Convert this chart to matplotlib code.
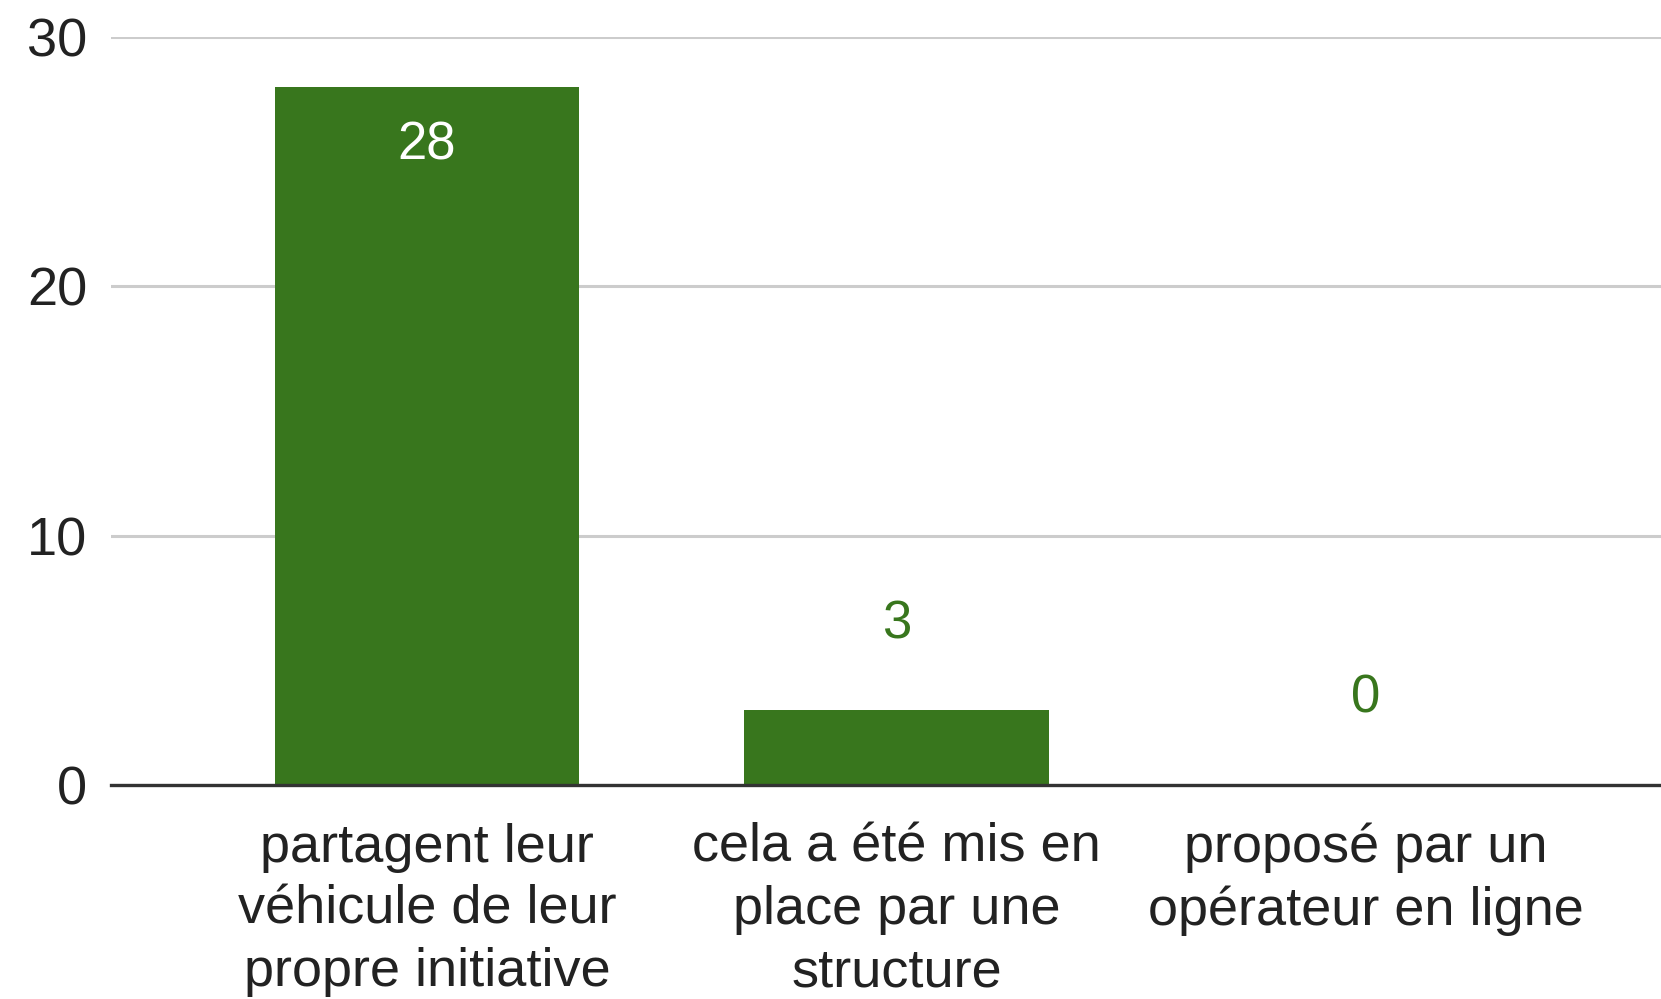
import matplotlib.pyplot as plt

categories = [
    "partagent leur\nvéhicule de leur\npropre initiative",
    "cela a été mis en\nplace par une\nstructure",
    "proposé par un\nopérateur en ligne",
]
values = [28, 3, 0]
yticks = [0, 10, 20, 30]

green = "#38761d"

plt.rcParams['font.family'] = ['Liberation Sans', 'DejaVu Sans']

fig = plt.figure(figsize=(16.61, 9.99), dpi=100)
ax = fig.add_axes([0.0668, 0.2142, 0.9332, 0.7488])

x = list(range(len(categories)))
bars = ax.bar(x, values, width=0.648, color=green, zorder=3)

for i, v in enumerate(values):
    if v > 10:
        ax.annotate(str(v), (x[i], v), xytext=(0, -42), textcoords="offset points",
                    ha="center", va="center", color="white", fontsize=38)
    else:
        ax.annotate(str(v), (x[i], v), xytext=(0, 62), textcoords="offset points",
                    ha="center", va="center", color=green, fontsize=38)

ax.set_xlim(-0.673, 2.628)
ax.set_ylim(0, 30)
ax.set_yticks(yticks)
ax.set_yticklabels([str(t) for t in yticks], fontsize=39, color="#222222")
ax.set_xticks(x)
ax.set_xticklabels(categories, fontsize=39, color="#222222", linespacing=1.32)
ax.tick_params(axis="y", length=0, pad=17)
ax.tick_params(axis="x", length=0, pad=27)

ax.grid(axis="y", color="#cccccc", linewidth=2.2, zorder=0)
for s in ["top", "right", "left"]:
    ax.spines[s].set_visible(False)
ax.spines["bottom"].set_color("#333333")
ax.spines["bottom"].set_linewidth(2.4)
ax.spines["bottom"].set_zorder(4)

fig.savefig("out.png", dpi=100)
